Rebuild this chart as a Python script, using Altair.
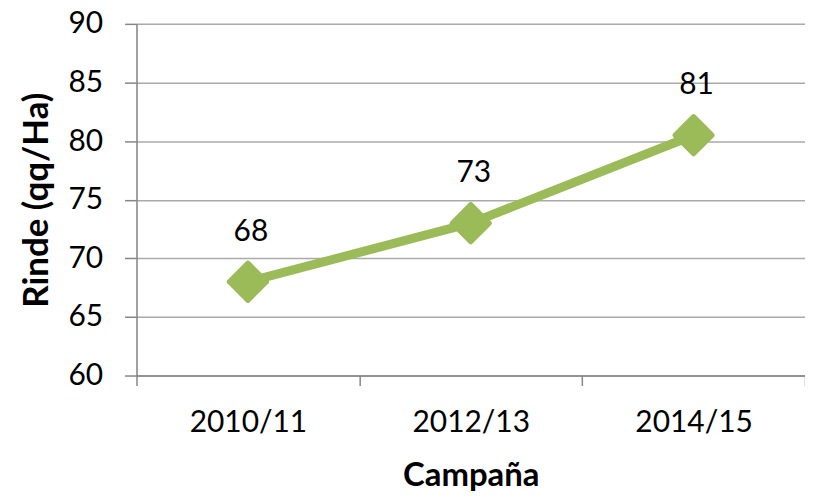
import altair as alt
import pandas as pd

campanas = ["2010/11", "2012/13", "2014/15"]
rinde = [68, 73, 80.5]
etiquetas = ["68", "73", "81"]

df = pd.DataFrame({"campana": campanas, "rinde": rinde, "etiqueta": etiquetas})

FONT = "Lato"
GREEN = "#9BBB59"

x_enc = alt.X(
    "campana:N",
    sort=campanas,
    bandPosition=0.5,
    scale=alt.Scale(type="band", paddingInner=0, paddingOuter=0),
    axis=alt.Axis(
        title="Campaña",
        tickBand="extent",
        labelAngle=0,
        labelFontSize=30,
        labelFont=FONT,
        labelColor="#000000",
        labelPadding=22,
        tickSize=10,
        tickColor="#868686",
        domainColor="#868686",
        domainWidth=1.5,
        tickWidth=1.5,
        grid=False,
        titleFont=FONT,
        titleFontSize=33,
        titleFontWeight="bold",
        titleColor="#000000",
        titlePadding=22,
    ),
)

y_enc = alt.Y(
    "rinde:Q",
    scale=alt.Scale(domain=[60, 90], nice=False, zero=False),
    axis=alt.Axis(
        title="Rinde (qq/Ha)",
        values=[60, 65, 70, 75, 80, 85, 90],
        labelFontSize=30,
        labelFont=FONT,
        labelColor="#000000",
        labelPadding=22,
        tickSize=12,
        tickColor="#868686",
        tickWidth=1.5,
        domainColor="#868686",
        domainWidth=1.5,
        grid=True,
        gridColor="#AAAAAA",
        gridWidth=1.5,
        titleFont=FONT,
        titleFontSize=35,
        titleFontWeight="bold",
        titleColor="#000000",
        titlePadding=14,
    ),
)

base = alt.Chart(df)

line = base.mark_line(color=GREEN, strokeWidth=9, strokeJoin="round").encode(x=x_enc, y=y_enc)
pts = base.mark_point(
    shape="diamond", size=1400, filled=True, color=GREEN, opacity=1,
    stroke=GREEN, strokeWidth=5, strokeJoin="round"
).encode(x=x_enc, y=y_enc)
txt = base.mark_text(dy=-50, dx=3, fontSize=30, font=FONT, color="#000000").encode(
    x=x_enc, y=y_enc, text="etiqueta:N"
)

chart = (
    alt.layer(line, pts, txt)
    .properties(
        width=671,
        height=353,
        autosize=alt.AutoSizeParams(type="none"),
        padding={"left": 129, "top": 15, "right": 0, "bottom": 120},
    )
    .configure_view(stroke=None)
    .configure(background="white")
)

chart.save("out.html", embed_options={"renderer": "svg", "actions": False})
